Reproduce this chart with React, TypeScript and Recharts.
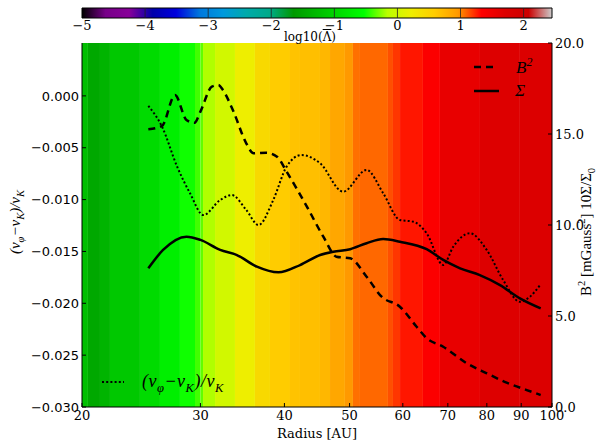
import { ComposedChart, Line, XAxis, YAxis, ReferenceArea, ReferenceLine } from 'recharts';

// radius ticks [AU]
const radiusTicks = [20, 30, 40, 50, 60, 70, 80, 90, 100];
const velocityTicks = [0, -0.005, -0.01, -0.015, -0.02, -0.025, -0.03];
const fieldTicks = [0, 5, 10, 15, 20];
const lambdaTicks = [-5, -4, -3, -2, -1, 0, 1, 2];

// B^2 [mGauss^2]
const b2Radius = [25.1, 26.3, 27.5, 28.6, 29.4, 30.0, 31.2, 31.9, 32.4, 33.6, 35.1, 36.0, 37.6, 39.0, 40.3, 43.2, 45.7, 47.8, 50.1, 53.0, 55.8, 59.4, 62.9, 65.1, 68.9, 74.7, 80.0, 85.6, 91.7, 96.2];
const b2Values = [15.26, 15.44, 17.14, 15.77, 15.62, 16.23, 17.6, 17.69, 17.42, 16.23, 14.49, 13.94, 13.97, 13.75, 12.93, 11.01, 9.36, 8.26, 8.17, 7.16, 6.06, 5.51, 4.41, 3.78, 3.31, 2.4, 1.85, 1.34, 0.93, 0.66];

// 10 Sigma / Sigma_0
const sigmaRadius = [25.1, 26.4, 28.6, 30.0, 32.1, 34.0, 36.4, 39.2, 42.2, 45.2, 47.3, 50.1, 53.0, 56.1, 59.4, 65.1, 68.9, 73.0, 78.1, 83.7, 89.6, 96.2];
const sigmaValues = [7.62, 8.63, 9.36, 9.18, 8.63, 8.35, 7.71, 7.4, 7.8, 8.35, 8.53, 8.67, 9.0, 9.23, 9.08, 8.67, 8.08, 7.62, 7.25, 6.7, 5.97, 5.42];

// (v_phi - v_K) / v_K
const dvRadius = [25.1, 26.3, 27.7, 28.95, 30.3, 32.1, 33.4, 35.1, 36.6, 38.5, 40.3, 42.4, 45.2, 48.9, 53.0, 56.1, 59.4, 62.2, 65.1, 68.9, 71.3, 75.5, 80.0, 84.6, 89.6, 92.7, 96.0];
const dvValues = [-0.00097, -0.00296, -0.00682, -0.00939, -0.01149, -0.01004, -0.00956, -0.011, -0.01245, -0.01004, -0.00682, -0.0057, -0.0065, -0.00924, -0.00714, -0.00939, -0.01197, -0.01213, -0.01325, -0.01631, -0.01455, -0.01325, -0.01487, -0.01776, -0.01986, -0.01937, -0.01824];

// log10(Lambda) per radial bin, bin edges in AU
const lambdaEdges = [20, 20.41, 21.27, 22.01, 24.39, 26.12, 27.97, 29.45, 30.0, 30.27, 31.54, 33.77, 36.16, 38.07, 40.77, 42.19, 45.18, 46.76, 49.21, 50.58, 51.81, 57.02, 58.01, 59.43, 64.28, 68.13, 78.14, 89.6, 100];
const logLambda = [-1.23, -1.48, -1.35, -1.13, -0.92, -0.7, -0.5, -0.4, -0.34, -0.18, 0.0, 0.22, 0.44, 0.59, 0.65, 0.68, 0.74, 0.86, 0.96, 1.06, 1.08, 1.14, 1.2, 1.28, 1.37, 1.59, 1.71, 1.72];

const LAMBDA_MIN = -5;
const LAMBDA_MAX = 2.45;

// nipy_spectral colormap segments
const nipy: [number, number, number, number][] = [
  [0.0, 0, 0, 0], [0.05, 0.4667, 0, 0.5333], [0.1, 0.5333, 0, 0.6], [0.15, 0, 0, 0.6667],
  [0.2, 0, 0, 0.8667], [0.25, 0, 0.4667, 0.8667], [0.3, 0, 0.6, 0.8667], [0.35, 0, 0.6667, 0.6667],
  [0.4, 0, 0.6667, 0.5333], [0.45, 0, 0.6, 0], [0.5, 0, 0.7333, 0], [0.55, 0, 0.8667, 0],
  [0.6, 0, 1, 0], [0.65, 0.7333, 1, 0], [0.7, 0.9333, 0.9333, 0], [0.75, 1, 0.8, 0],
  [0.8, 1, 0.6, 0], [0.85, 1, 0, 0], [0.9, 0.8667, 0, 0], [0.95, 0.8, 0, 0], [1.0, 0.8, 0.8, 0.8],
];

const rgb = (r: number, g: number, b: number) =>
  `rgb(${Math.round(r * 255)},${Math.round(g * 255)},${Math.round(b * 255)})`;

const cmap = (v: number) => {
  const t = Math.min(1, Math.max(0, (v - LAMBDA_MIN) / (LAMBDA_MAX - LAMBDA_MIN)));
  for (let i = 1; i < nipy.length; i++) {
    const [t1, r1, g1, b1] = nipy[i];
    if (t <= t1) {
      const [t0, r0, g0, b0] = nipy[i - 1];
      const f = (t - t0) / (t1 - t0);
      return rgb(r0 + f * (r1 - r0), g0 + f * (g1 - g0), b0 + f * (b1 - b0));
    }
  }
  return rgb(0.8, 0.8, 0.8);
};

const b2Data = b2Radius.map((r, i) => ({ r, v: b2Values[i] }));
const sigmaData = sigmaRadius.map((r, i) => ({ r, v: sigmaValues[i] }));
const dvData = dvRadius.map((r, i) => ({ r, v: dvValues[i] }));

const minus = (s: string) => s.replace('-', '\u2212');
const serif = 'DejaVu Serif';
const mathFont = 'Liberation Serif';
const tickStyle = { fontFamily: serif, fontSize: 13, fill: '#000' };

const ColorBar = () => (
  <ComposedChart
    width={599}
    height={45}
    data={lambdaTicks.map((v) => ({ v, h: 1 }))}
    margin={{ top: 8, right: 47, left: 82, bottom: 0 }}
  >
    <defs>
      <linearGradient id="nipyGrad" x1="0" y1="0" x2="1" y2="0">
        {nipy.map(([t, r, g, b]) => (
          <stop key={t} offset={t} stopColor={rgb(r, g, b)} />
        ))}
      </linearGradient>
    </defs>
    <XAxis
      dataKey="v"
      type="number"
      domain={[LAMBDA_MIN, LAMBDA_MAX]}
      allowDataOverflow
      ticks={lambdaTicks}
      tickFormatter={(v: number) => minus(String(v))}
      tick={tickStyle}
      tickSize={0}
      tickMargin={3}
      axisLine={false}
      height={27}
    />
    <YAxis hide dataKey="h" type="number" domain={[0, 1]} allowDataOverflow />
    <ReferenceArea
      x1={LAMBDA_MIN}
      x2={LAMBDA_MAX}
      y1={0}
      y2={1}
      fill="url(#nipyGrad)"
      fillOpacity={1}
      stroke="#000"
      strokeWidth={1}
    />
    {lambdaTicks.slice(1).map((v) => (
      <ReferenceLine key={v} x={v} stroke="#222" strokeWidth={0.8} />
    ))}
  </ComposedChart>
);

const VRatio = () => (
  <span style={{ fontFamily: mathFont, fontStyle: 'italic' }}>
    (v<sub style={{ fontSize: '0.7em' }}>φ</sub>−v<sub style={{ fontSize: '0.7em' }}>K</sub>)/v
    <sub style={{ fontSize: '0.7em' }}>K</sub>
  </span>
);

const abs = (left: number, top: number, extra: object = {}) => ({
  position: 'absolute' as const,
  left,
  top,
  lineHeight: 1,
  whiteSpace: 'nowrap' as const,
  ...extra,
});

export default function App() {
  return (
    <div style={{ position: 'absolute', left: 0, top: 0, width: 599, height: 441, background: '#fff', overflow: 'hidden' }}>
      <div style={abs(0, 0)}>
        <ComposedChart width={599} height={441} margin={{ top: 43, right: 0, left: 0, bottom: 0 }}>
          <XAxis
            xAxisId="bottom"
            dataKey="r"
            type="number"
            scale="log"
            domain={[20, 100]}
            allowDataOverflow
            ticks={radiusTicks}
            tick={tickStyle}
            tickSize={-4}
            tickMargin={8}
            height={34}
            stroke="#000"
          />
          <XAxis
            xAxisId="top"
            orientation="top"
            dataKey="r"
            type="number"
            scale="log"
            domain={[20, 100]}
            allowDataOverflow
            ticks={radiusTicks}
            tick={false}
            tickSize={-4}
            height={0}
            stroke="#000"
          />
          <YAxis
            yAxisId="left"
            type="number"
            domain={[-0.03, 0.0051]}
            allowDataOverflow
            ticks={velocityTicks}
            tickFormatter={(v: number) => minus(v.toFixed(3))}
            tick={{ fontFamily: 'DejaVu Sans', fontSize: 13, fill: '#000' }}
            tickSize={-4}
            tickMargin={7}
            width={82}
            stroke="#000"
          />
          <YAxis
            yAxisId="right"
            orientation="right"
            type="number"
            domain={[0, 20]}
            allowDataOverflow
            ticks={fieldTicks}
            tickFormatter={(v: number) => v.toFixed(1)}
            tick={tickStyle}
            tickSize={-4}
            tickMargin={7}
            width={47}
            stroke="#000"
          />
          {logLambda.map((v, i) => (
            <ReferenceArea
              key={i}
              xAxisId="bottom"
              yAxisId="left"
              x1={lambdaEdges[i]}
              x2={lambdaEdges[i + 1]}
              y1={-0.03}
              y2={0.0051}
              fill={cmap(v)}
              fillOpacity={1}
              stroke="none"
            />
          ))}
          <Line
            data={dvData}
            dataKey="v"
            xAxisId="bottom"
            yAxisId="left"
            type="monotone"
            stroke="#000"
            strokeWidth={2}
            strokeDasharray="2 2.2"
            dot={false}
            isAnimationActive={false}
          />
          <Line
            data={b2Data}
            dataKey="v"
            xAxisId="bottom"
            yAxisId="right"
            type="monotone"
            stroke="#000"
            strokeWidth={2.5}
            strokeDasharray="7 5"
            dot={false}
            isAnimationActive={false}
          />
          <Line
            data={sigmaData}
            dataKey="v"
            xAxisId="bottom"
            yAxisId="right"
            type="monotone"
            stroke="#000"
            strokeWidth={2.5}
            dot={false}
            isAnimationActive={false}
          />
        </ComposedChart>
      </div>

      <div style={abs(0, 0)}>
        <ColorBar />
      </div>
      <div style={abs(310, 37, { transform: 'translate(-50%,-50%)', fontFamily: serif, fontSize: 12 })}>
        log10(<span style={{ textDecoration: 'overline' }}>Λ</span>)
      </div>

      {/* legend, upper right */}
      <svg style={abs(470, 56)} width={32} height={44}>
        <line x1={4} x2={28} y1={11} y2={11} stroke="#000" strokeWidth={2.5} strokeDasharray="7 5" />
        <line x1={4} x2={29} y1={35} y2={35} stroke="#000" strokeWidth={2.5} />
      </svg>
      <div style={abs(516, 57, { fontFamily: mathFont, fontStyle: 'italic', fontSize: 17 })}>
        B<sup style={{ fontSize: '0.7em' }}>2</sup>
      </div>
      <div style={abs(515, 82, { fontFamily: mathFont, fontStyle: 'italic', fontSize: 17 })}>Σ</div>

      {/* legend, lower left */}
      <svg style={abs(98, 376)} width={30} height={12}>
        <line x1={4} x2={26} y1={6} y2={6} stroke="#000" strokeWidth={2} strokeDasharray="2 2.2" />
      </svg>
      <div style={abs(142, 372, { fontSize: 18, letterSpacing: 0.5 })}>
        <VRatio />
      </div>

      {/* axis titles */}
      <div style={abs(317, 433, { transform: 'translate(-50%,-50%)', fontFamily: serif, fontSize: 13 })}>
        Radius [AU]
      </div>
      <div style={abs(17, 222, { transform: 'translate(-50%,-50%) rotate(-90deg)', fontSize: 15 })}>
        <VRatio />
      </div>
      <div
        style={abs(587, 232, {
          transform: 'translate(-50%,-50%) rotate(-90deg)',
          fontFamily: mathFont,
          fontSize: 15,
        })}
      >
        B<sup style={{ fontSize: '0.7em' }}>2</sup> [mGauss<sup style={{ fontSize: '0.7em' }}>2</sup>] 10Σ/Σ
        <sub style={{ fontSize: '0.7em' }}>0</sub>
      </div>
    </div>
  );
}
